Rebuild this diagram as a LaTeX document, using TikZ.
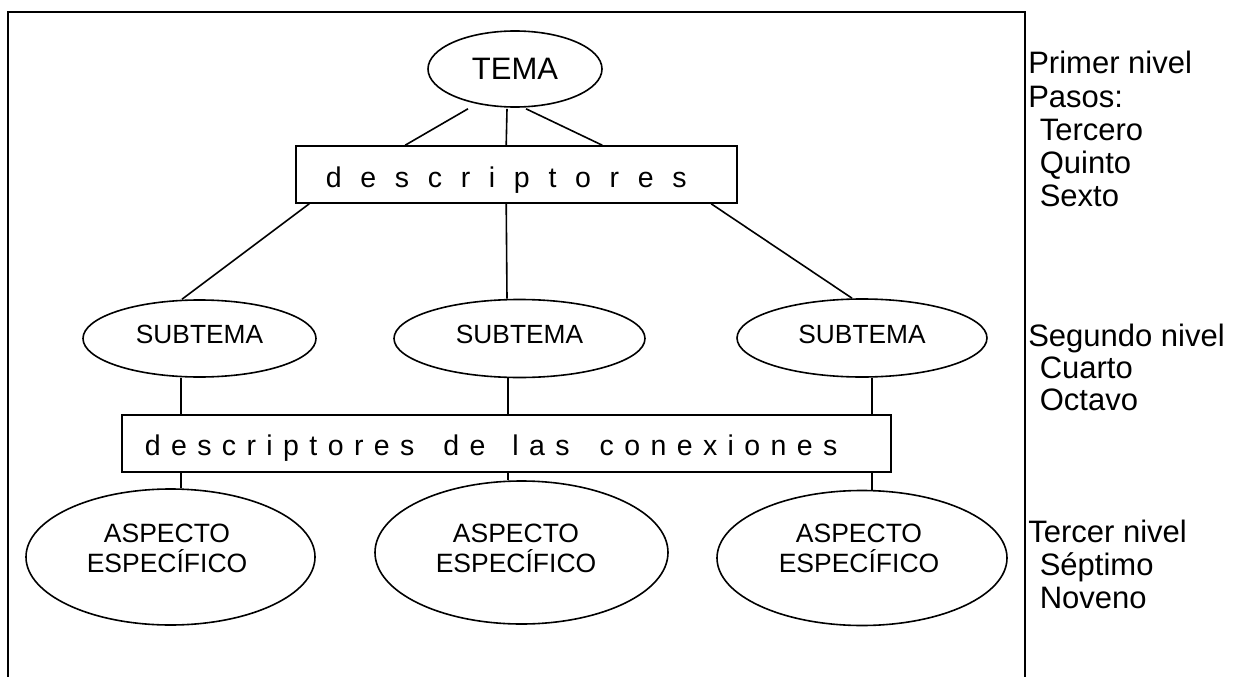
\documentclass[tikz,border=0pt]{standalone}
\usepackage{fontspec}
\setmainfont{Liberation Sans}
\usetikzlibrary{shapes.geometric,calc}
\newcommand\lsgap{10pt}
\def\lsA#1{\ifx#1\relax\unskip\else#1\hskip\lsgap\relax\expandafter\lsA\fi}
\newcommand\ls[1]{\lsA#1\relax}
\begin{document}
\begin{tikzpicture}[x=1pt,y=-1pt,line width=1.6pt,
  ell/.style={draw,ellipse,inner sep=0pt},
  boxr/.style={draw,rectangle,inner sep=0pt},
  lbl/.style={anchor=base west,inner sep=0pt,font=\fontsize{31}{36}\selectfont},
  bxt/.style={anchor=base west,inner sep=0pt,font=\fontsize{28.5}{32}\selectfont},
  subt/.style={inner sep=0pt,font=\fontsize{26.3}{30}\selectfont},
  aspt/.style={inner sep=0pt,align=center,font=\fontsize{26.5}{30}\selectfont}]
\useasboundingbox (0,0) rectangle (1237,677);
% frame
\draw (8,677) -- (8,12) -- (1025,12) -- (1025,677);
% top
\node[ell,minimum width=174pt,minimum height=76pt,font=\fontsize{31}{36}\selectfont] (tema) at (515,69) {TEMA};
\node[boxr,minimum width=441pt,minimum height=57pt] (d1) at (516.5,174.5) {};
\node[bxt] (d1t) at (325,187) {{\def\lsgap{18.7pt}\ls{descriptores}}};
% subtemas
\node[ell,minimum width=233pt,minimum height=77pt] (s1) at (199.5,338.5) {};
\node[ell,minimum width=251pt,minimum height=78pt] (s2) at (519.5,338.5) {};
\node[ell,minimum width=250pt,minimum height=78pt] (s3) at (862,338) {};
\node[subt] (s1t) at (199.5,334) {SUBTEMA};
\node[subt] (s2t) at (519.5,334) {SUBTEMA};
\node[subt] (s3t) at (862,334) {SUBTEMA};
% box 2
\node[boxr,minimum width=769pt,minimum height=57pt] (d2) at (506.5,443.5) {};
\node[bxt] (d2t) at (144,455) {{\def\lsgap{10.4pt}\ls{descriptores}\hskip29pt\ls{de}\hskip27pt\ls{las}\hskip30pt\ls{conexiones}}};
% aspects
\node[ell,minimum width=289pt,minimum height=136pt] (a1) at (170.5,557) {};
\node[ell,minimum width=293pt,minimum height=143pt] (a2) at (521.5,552.5) {};
\node[ell,minimum width=290pt,minimum height=135pt] (a3) at (862,558) {};
\node[aspt] (a1t) at (167,548) {ASPECTO\\ESPECÍFICO};
\node[aspt] (a2t) at (516,548) {ASPECTO\\ESPECÍFICO};
\node[aspt] (a3t) at (859,548) {ASPECTO\\ESPECÍFICO};
% connectors
\draw ($(tema.south)+(-47,1)$) -- ($(d1.north west)+(110,0)$);
\draw ($(tema.south)+(-8,1)$) -- ($(d1.north west)+(211,0)$);
\draw ($(tema.south)+(11,1)$) -- ($(d1.north west)+(307,0)$);
\draw ($(d1.south west)+(14,0)$) -- ($(s1.north)+(-17.5,0)$);
\draw ($(d1.south west)+(211,0)$) -- ($(s2.north)+(-12.5,0)$);
\draw ($(d1.south west)+(416,0)$) -- ($(s3.north)+(-10,0)$);
\coordinate (c1) at (181,0);
\coordinate (c2) at (508,0);
\coordinate (c3) at (872,0);
\draw (s1.south -| c1) -- (d2.north -| c1);
\draw (s2.south -| c2) -- (d2.north -| c2);
\draw (s3.south -| c3) -- (d2.north -| c3);
\draw (d2.south -| c1) -- (a1.north -| c1);
\draw (d2.south -| c2) -- (a2.north -| c2);
\draw (d2.south -| c3) -- (a3.north -| c3);
% right labels
\node[lbl] (l1) at (1027.5,74) {Primer nivel};
\node[lbl] (l2) at (1027.5,107) {Pasos:};
\node[lbl] (l3) at (1039,140) {Tercero};
\node[lbl] (l4) at (1039,173) {Quinto};
\node[lbl] (l5) at (1039,206) {Sexto};
\node[lbl] (l6) at (1027.5,346) {Segundo nivel};
\node[lbl] (l7) at (1039,378.5) {Cuarto};
\node[lbl] (l8) at (1039,410.5) {Octavo};
\node[lbl] (l9) at (1027.5,542) {Tercer nivel};
\node[lbl] (l10) at (1039,575) {Séptimo};
\node[lbl] (l11) at (1039,608) {Noveno};
\end{tikzpicture}
\end{document}
